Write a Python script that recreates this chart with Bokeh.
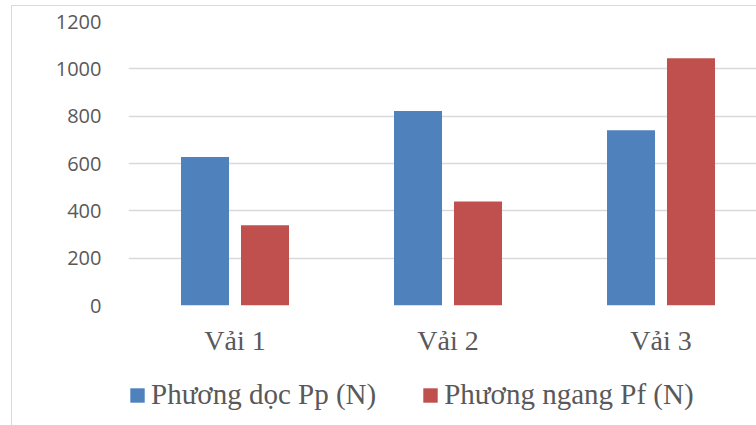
from bokeh.plotting import figure
from bokeh.layouts import column
from bokeh.models import ColumnDataSource, Range1d, FixedTicker, Legend, LegendItem
from bokeh.transform import dodge
from bokeh.embed import file_html
from bokeh.resources import INLINE

# Tensile strength of three fabrics, warp vs weft direction
categories = ["Vải 1", "Vải 2", "Vải 3"]
series_names = ["Phương dọc Pp (N)", "Phương ngang Pf (N)"]
doc_values = [627, 822, 740]
ngang_values = [339, 439, 1045]
y_ticks = [0, 200, 400, 600, 800, 1000, 1200]

BLUE = "#4F81BD"
RED = "#C0504D"
GRID = "#D9D9D9"
TEXT = "#595959"

positions = [i + 0.5 for i in range(len(categories))]
source = ColumnDataSource(data=dict(x=positions, doc=doc_values, ngang=ngang_values))

# --- main chart ---
p = figure(
    width=745, height=370,
    x_range=Range1d(0, 2.953), y_range=Range1d(0, 1200),
    output_backend="svg", toolbar_location=None,
    min_border_left=116, min_border_right=0,
    min_border_top=15, min_border_bottom=71,
)
p.outline_line_color = None
p.background_fill_color = "white"
p.border_fill_color = "white"

bar_w = 0.2254
p.vbar(x=dodge("x", -0.1408), top="doc", width=bar_w, source=source,
       fill_color=BLUE, line_color=None)
p.vbar(x=dodge("x", 0.1408), top="ngang", width=bar_w, source=source,
       fill_color=RED, line_color=None)

# y axis: labels only, gridlines carry the scale
p.yaxis.ticker = FixedTicker(ticks=y_ticks)
p.yaxis.axis_line_color = None
p.yaxis.major_tick_line_color = None
p.yaxis.minor_tick_line_color = None
p.yaxis.major_tick_out = 0
p.yaxis.major_tick_in = 0
p.yaxis.major_label_standoff = 27
p.yaxis.major_label_text_font = "Open Sans"
p.yaxis.major_label_text_font_size = "20px"
p.yaxis.major_label_text_color = TEXT

# x axis: category names under each group
p.xaxis.ticker = FixedTicker(ticks=positions)
p.xaxis.major_label_overrides = {pos: name for pos, name in zip(positions, categories)}
p.xaxis.axis_line_color = None
p.xaxis.major_tick_line_color = None
p.xaxis.minor_tick_line_color = None
p.xaxis.major_tick_out = 0
p.xaxis.major_tick_in = 0
p.xaxis.major_label_standoff = 19
p.xaxis.major_label_text_font = "Liberation Serif"
p.xaxis.major_label_text_font_size = "28px"
p.xaxis.major_label_text_color = TEXT

p.xgrid.grid_line_color = None
p.ygrid.ticker = FixedTicker(ticks=y_ticks)
p.ygrid.grid_line_color = GRID
p.ygrid.grid_line_width = 1.3

# --- legend strip under the chart ---
key = figure(
    width=745, height=50,
    output_backend="svg", toolbar_location=None,
    x_axis_location=None, y_axis_location=None,
    min_border=0,
)
key.outline_line_color = None
key.xgrid.grid_line_color = None
key.ygrid.grid_line_color = None
# hidden copies of the two series, used only for their legend swatches
k_doc = key.vbar(x="x", top="doc", width=bar_w, source=source,
                 fill_color=BLUE, line_color=None, visible=False)
k_ngang = key.vbar(x="x", top="ngang", width=bar_w, source=source,
                   fill_color=RED, line_color=None, visible=False)

legend = Legend(
    items=[LegendItem(label=series_names[0], renderers=[k_doc]),
           LegendItem(label=series_names[1], renderers=[k_ngang])],
    orientation="horizontal",
    location=(0, 15),
    glyph_width=18, glyph_height=18,
    label_standoff=5, spacing=45,
    padding=0, margin=0,
    border_line_color=None, background_fill_alpha=0,
    inactive_fill_alpha=0,
    label_text_font="Liberation Serif", label_text_font_size="29px",
    label_text_color=TEXT,
)
key.add_layout(legend, "center")

layout = column(p, key, spacing=0)
layout.margin = (5, 0, 0, 11)
layout.styles = {"border-left": "1px solid #D9D9D9", "border-top": "1px solid #D9D9D9"}

open("out.html", "w").write(file_html(layout, INLINE))
